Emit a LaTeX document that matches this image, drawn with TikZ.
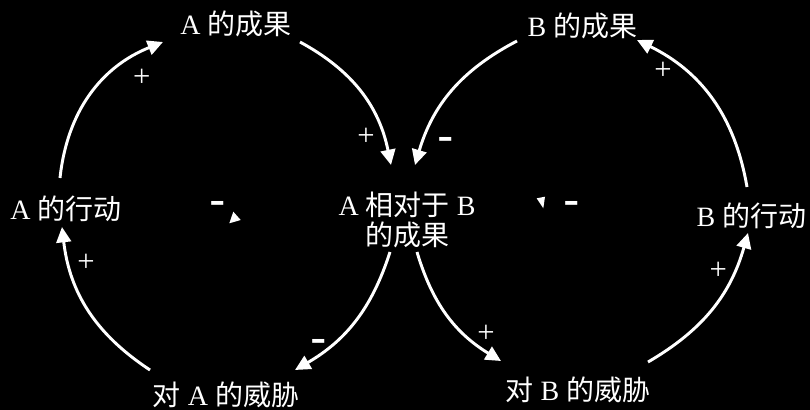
\documentclass[tikz,border=0pt]{standalone}
\usepackage{fontspec}
\setmainfont{Liberation Serif}
\newfontfamily\cjk{Noto Sans CJK SC}
\newfontfamily\barfont{Liberation Sans}
\usetikzlibrary{arrows.meta}
\begin{document}
\begin{tikzpicture}[x=0.75pt,y=-0.75pt,
  lbl/.style={text=white, inner sep=0pt, font=\fontsize{21}{22.5}\selectfont, align=center},
  pl/.style={text=white, inner sep=0pt, font=\fontsize{23}{23}\selectfont},
  mn/.style={text=white, inner sep=0pt, font=\barfont\fontsize{37}{37}\selectfont},
  conn/.style={white, line width=2.2pt, -{Triangle[length=11.5pt,width=11pt]}},
  ]
\fill[black] (0,0) rectangle (810,410);
\useasboundingbox (0,0) rectangle (810,410);

% labels
\node[lbl] (resA) at (236,24) {A {\cjk 的成果}};
\node[lbl] (resB) at (582.5,25.5) {B {\cjk 的成果}};
\node[lbl] (actA) at (66,208.5) {A {\cjk 的行动}};
\node[lbl] (actB) at (751.5,216) {B {\cjk 的行动}};
\node[lbl] (rel) at (407,219.5) {A {\cjk 相对于} B\\{\cjk 的成果}};
\node[lbl] (thrA) at (226,394.5) {{\cjk 对} A {\cjk 的威胁}};
\node[lbl] (thrB) at (578,390) {{\cjk 对} B {\cjk 的威胁}};

% connector end points
\coordinate (actA-o) at (60,178);
\coordinate (resA-i) at (163,42);
\coordinate (resA-o) at (300,42);
\coordinate (rel-iA) at (391,165);
\coordinate (rel-oA) at (390,252);
\coordinate (thrA-i) at (295,370);
\coordinate (thrA-o) at (150,370);
\coordinate (actA-i) at (62,227);
\coordinate (resB-o) at (517,41);
\coordinate (rel-iB) at (415,165);
\coordinate (rel-oB) at (417,252);
\coordinate (thrB-i) at (501,361);
\coordinate (thrB-o) at (648,362);
\coordinate (actB-i) at (748,233);
\coordinate (actB-o) at (747,187);
\coordinate (resB-i) at (637,40);

% connectors
\draw[conn] (actA-o) to[bend left=31] (resA-i);
\draw[conn] (resA-o) to[bend left=25] (rel-iA);
\draw[conn] (rel-oA) to[bend left=21] (thrA-i);
\draw[conn] (thrA-o) to[bend left=25] (actA-i);
\draw[conn] (resB-o) to[bend right=23] (rel-iB);
\draw[conn] (rel-oB) to[bend right=21] (thrB-i);
\draw[conn] (thrB-o) to[bend right=22] (actB-i);
\draw[conn] (actB-o) to[bend right=27] (resB-i);

% polarity signs
\node[pl] (p1) at (141.7,78.3) {+};
\node[pl] (p2) at (366,137) {+};
\node[pl] (p3) at (663,71) {+};
\node[pl] (p4) at (86,263.3) {+};
\node[pl] (p5) at (718.3,270.7) {+};
\node[pl] (p6) at (486,334) {+};
\node[mn] (m1) at (445.8,145.4) {-};
\node[mn] (m2) at (319,347.1) {-};

% loop markers
\node[mn] (lpA) at (218,208.6) {-};
\node[mn] (lpB) at (572,208.6) {-};
\fill[white] (233.3,211.7) -- (229.3,223.3) -- (240.7,220) -- cycle;
\fill[white] (536.7,198.3) -- (545,196.7) -- (543.3,208.3) -- cycle;
\end{tikzpicture}
\end{document}
